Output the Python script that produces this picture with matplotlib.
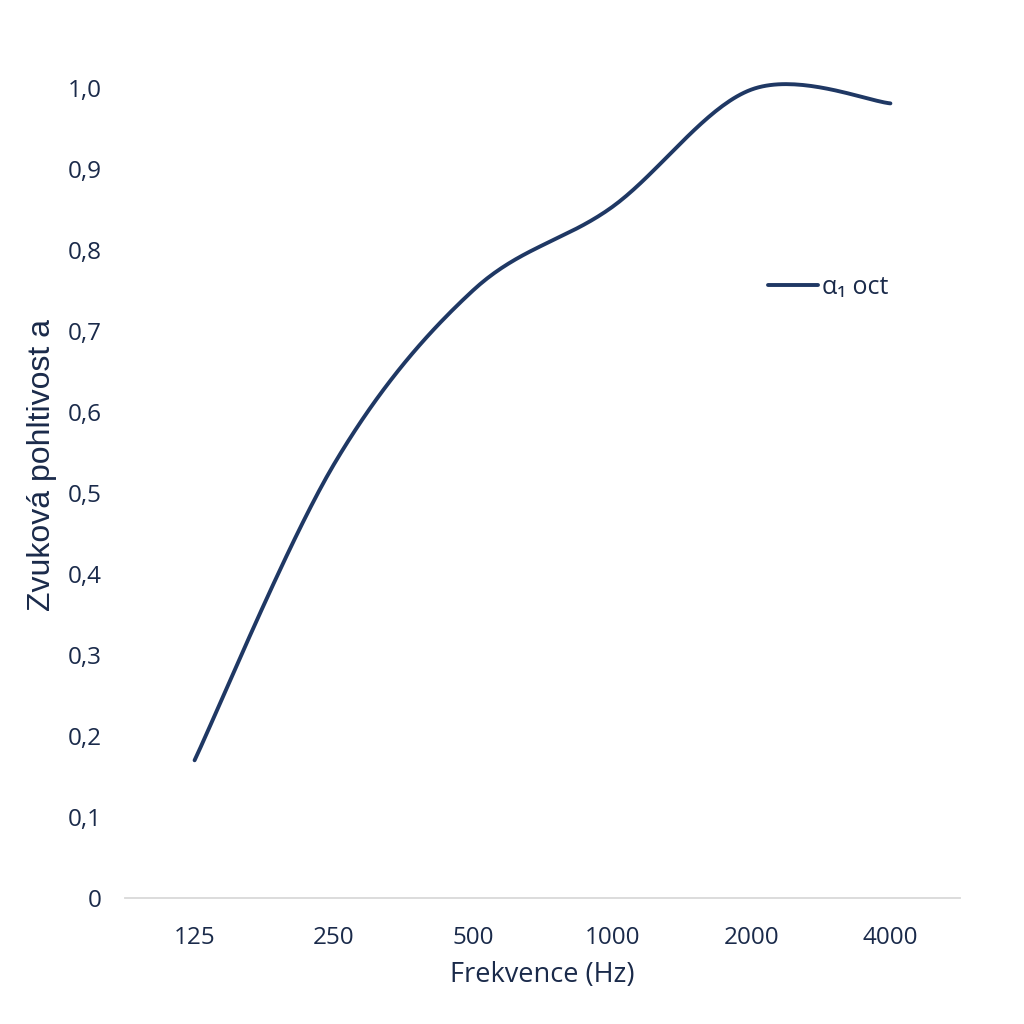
import numpy as np
import matplotlib.pyplot as plt

plt.rcParams['font.family'] = ['Open Sans', 'DejaVu Sans']

# data
frequencies = ['125', '250', '500', '1000', '2000', '4000']
alpha_oct = [0.17, 0.535, 0.75, 0.853, 0.998, 0.981]
y_ticks = [0, 0.1, 0.2, 0.3, 0.4, 0.5, 0.6, 0.7, 0.8, 0.9, 1.0]
y_tick_labels = ['0', '0,1', '0,2', '0,3', '0,4', '0,5', '0,6', '0,7', '0,8', '0,9', '1,0']

text_col = '#1a2a4a'
line_col = '#1f3864'


def smooth(xs, ys, n=40):
    # Excel-like smoothed line (Catmull-Rom through the points)
    xs = np.asarray(xs, float)
    ys = np.asarray(ys, float)
    px = np.concatenate([[xs[0]], xs, [xs[-1]]])
    py = np.concatenate([[ys[0]], ys, [ys[-1]]])
    outx, outy = [], []
    t = np.linspace(0, 1, n)
    for i in range(1, len(px) - 2):
        x0, x1, x2, x3 = px[i - 1:i + 3]
        y0, y1, y2, y3 = py[i - 1:i + 3]
        for a0, a1, a2, a3, out in ((x0, x1, x2, x3, outx), (y0, y1, y2, y3, outy)):
            c1 = a1 + (a2 - a0) / 6
            c2 = a2 - (a3 - a1) / 6
            out.extend((1 - t) ** 3 * a1 + 3 * (1 - t) ** 2 * t * c1 + 3 * (1 - t) * t ** 2 * c2 + t ** 3 * a2)
    return outx, outy


fig = plt.figure(figsize=(10.24, 10.24), dpi=100)
ax = fig.add_axes([125 / 1024, 1 - 898 / 1024, 835 / 1024, 810 / 1024])

sx, sy = smooth(range(len(frequencies)), alpha_oct)
ax.plot(sx, sy, color=line_col, lw=2.8, solid_capstyle='round', clip_on=False,
        label='α₁ oct')

ax.set_xlim(-0.5, len(frequencies) - 0.5)
ax.set_ylim(0, 1.0)
ax.set_xticks(range(len(frequencies)))
ax.set_xticklabels(frequencies)
ax.set_yticks(y_ticks)
ax.set_yticklabels(y_tick_labels)
ax.tick_params(length=0, labelsize=17.5, colors=text_col)
ax.tick_params(axis='x', pad=20)
ax.tick_params(axis='y', pad=17)

for s in ['top', 'right', 'left']:
    ax.spines[s].set_visible(False)
ax.spines['bottom'].set_color('#d9d9d9')
ax.spines['bottom'].set_linewidth(1.3)

ax.set_xlabel('Frekvence (Hz)', fontsize=19.5, color=text_col, labelpad=8)
ax.set_ylabel('Zvuková pohltivost a', fontsize=23, color=text_col,
              family=['Liberation Sans Narrow', 'Liberation Sans'], va='center')
ax.yaxis.set_label_coords(-83 / 835, (898 - 465) / 810)

leg = ax.legend(loc='center left', bbox_to_anchor=(0.743, 0.754), frameon=False,
                fontsize=18, handlelength=2.0, handletextpad=0.15)
for t in leg.get_texts():
    t.set_color(text_col)

fig.savefig('out.png', dpi=100, facecolor='white')
